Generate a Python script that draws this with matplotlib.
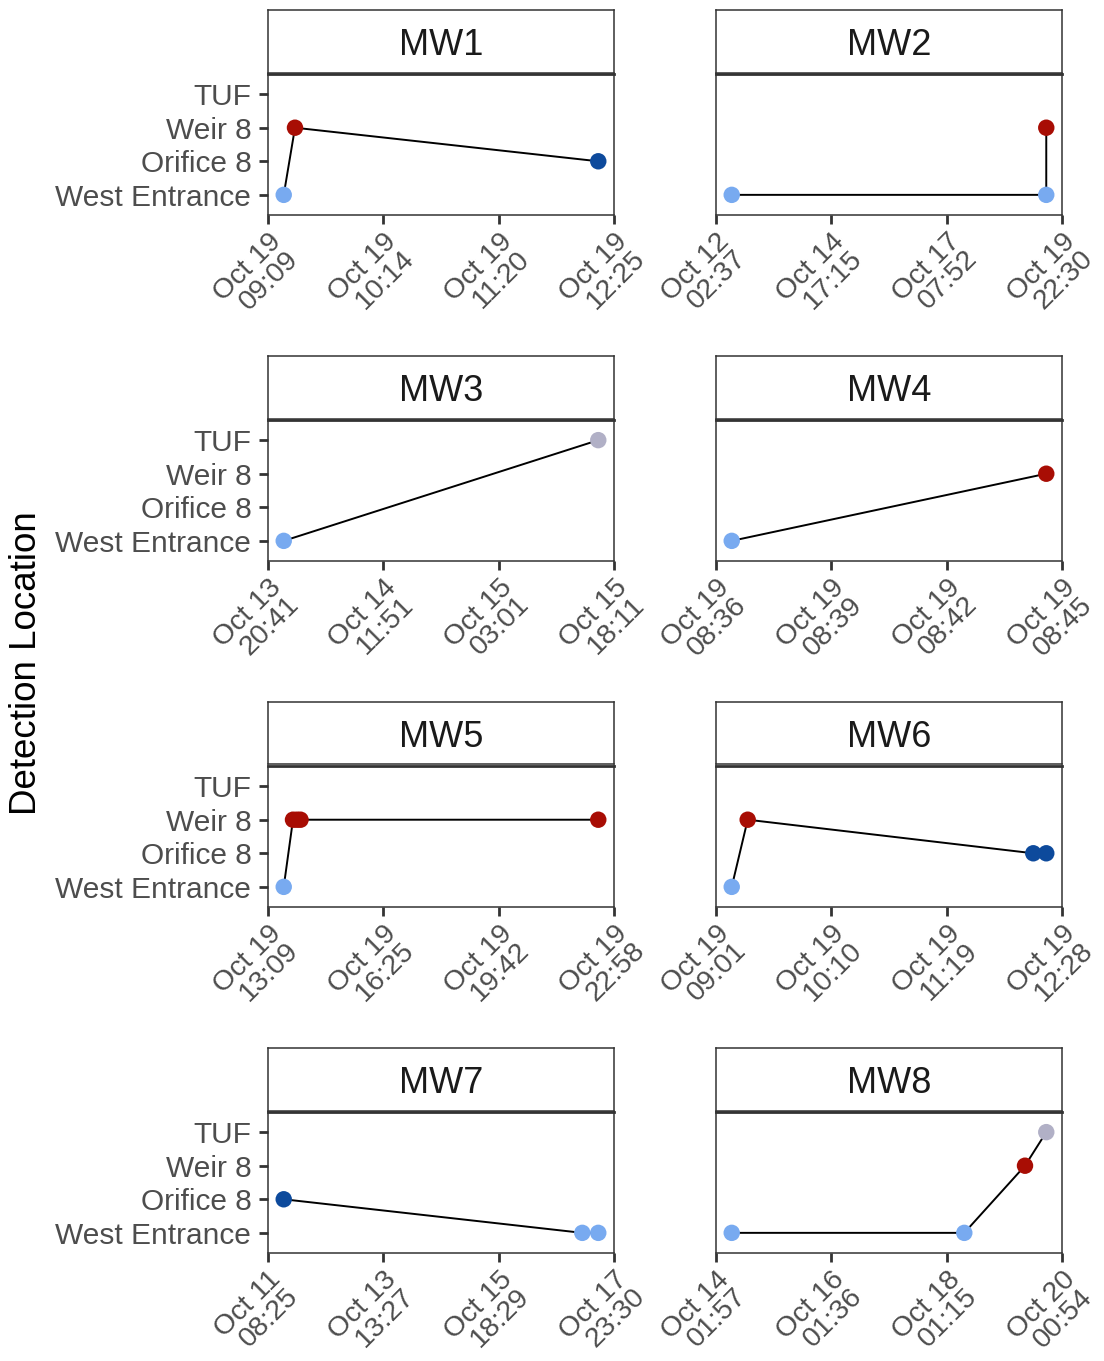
import datetime as dt
import numpy as np
import matplotlib
matplotlib.use("Agg")
import matplotlib.pyplot as plt
import matplotlib.dates as mdates
import matplotlib.transforms as mtransforms

plt.rcParams['font.family'] = ['Liberation Sans', 'DejaVu Sans']

# ---------------- data ----------------
locations = ['West Entrance', 'Orifice 8', 'Weir 8', 'TUF']
loc_colors = {'West Entrance': '#78AAF0', 'Orifice 8': '#0D4A9C',
              'Weir 8': '#A80D04', 'TUF': '#B1B0C6'}
fish_ids = ['MW1', 'MW2', 'MW3', 'MW4', 'MW5', 'MW6', 'MW7', 'MW8']

det_fish = ['MW1', 'MW1', 'MW1',
            'MW2', 'MW2', 'MW2',
            'MW3', 'MW3',
            'MW4', 'MW4',
            'MW5', 'MW5', 'MW5', 'MW5', 'MW5',
            'MW6', 'MW6', 'MW6', 'MW6',
            'MW7', 'MW7', 'MW7',
            'MW8', 'MW8', 'MW8', 'MW8']
det_time = ['2020-10-19 09:18:00', '2020-10-19 09:24:24', '2020-10-19 12:16:45',
            '2020-10-12 11:10:00', '2020-10-19 13:57:30', '2020-10-19 13:58:00',
            '2020-10-13 22:45:10', '2020-10-15 16:07:00',
            '2020-10-19 08:36:30', '2020-10-19 08:44:40',
            '2020-10-19 13:36:00', '2020-10-19 13:51:48', '2020-10-19 13:58:36',
            '2020-10-19 14:04:36', '2020-10-19 22:31:54',
            '2020-10-19 09:10:30', '2020-10-19 09:20:03', '2020-10-19 12:10:54',
            '2020-10-19 12:18:40',
            '2020-10-11 15:39:17', '2020-10-17 08:56:24', '2020-10-17 16:17:01',
            '2020-10-14 08:27:10', '2020-10-18 08:32:18', '2020-10-19 09:37:00',
            '2020-10-19 18:24:20']
det_loc = ['West Entrance', 'Weir 8', 'Orifice 8',
           'West Entrance', 'West Entrance', 'Weir 8',
           'West Entrance', 'TUF',
           'West Entrance', 'Weir 8',
           'West Entrance', 'Weir 8', 'Weir 8', 'Weir 8', 'Weir 8',
           'West Entrance', 'Weir 8', 'Orifice 8', 'Orifice 8',
           'Orifice 8', 'West Entrance', 'West Entrance',
           'West Entrance', 'West Entrance', 'Weir 8', 'TUF']

# ---------------- figure ----------------
W, H = 1104, 1361
fig = plt.figure(figsize=(W / 100, H / 100), dpi=100)

def fx(px):
    return px / W

def fy(py):
    return 1 - py / H

BORDER = '#333333'
TICKLAB = '#4D4D4D'
left0, col_step, pw = 268, 448, 346
strip_top0, strip_h, panel_top0, panel_h, row_step = 10, 62.5, 74, 141, 346

times_num = mdates.date2num([dt.datetime.strptime(t, '%Y-%m-%d %H:%M:%S') for t in det_time])
det_fish_arr = np.array(det_fish)
det_loc_arr = np.array(det_loc)

for i, fid in enumerate(fish_ids):
    r, c = divmod(i, 2)
    x0 = left0 + c * col_step
    st = strip_top0 + r * row_step
    pt = panel_top0 + r * row_step

    # strip
    sax = fig.add_axes([fx(x0), fy(st + strip_h), fx(pw), strip_h / H])
    sax.set_xticks([]); sax.set_yticks([])
    for s in sax.spines.values():
        s.set_color(BORDER); s.set_linewidth(1.1)
    sax.text(0.5, 0.5, fid, ha='center', va='center_baseline', fontsize=26,
             color='#1A1A1A', transform=sax.transAxes)

    # panel
    ax = fig.add_axes([fx(x0), fy(pt + panel_h), fx(pw), panel_h / H])
    m = det_fish_arr == fid
    xs = times_num[m]
    ys = np.array([locations.index(l) for l in det_loc_arr[m]])
    cols = [loc_colors[l] for l in det_loc_arr[m]]
    ax.plot(xs, ys, color='black', lw=1.4, zorder=2)
    ax.scatter(xs, ys, s=140, c=cols, edgecolors='none', zorder=3)

    lo, hi = xs.min(), xs.max()
    rng = hi - lo
    lo, hi = lo - 0.05 * rng, hi + 0.05 * rng
    ax.set_xlim(lo, hi)
    ticks = np.linspace(lo, hi, 4)
    ax.set_xticks(ticks)
    ax.set_xticklabels([mdates.num2date(t).strftime('%b %d\n%H:%M') for t in ticks],
                       rotation=45, ha='right', va='top', rotation_mode='anchor',
                       fontsize=20.5, color=TICKLAB, linespacing=0.95)
    off = mtransforms.ScaledTranslation(5 / 100, 0, fig.dpi_scale_trans)
    for lab in ax.get_xticklabels():
        lab.set_transform(lab.get_transform() + off)

    ax.set_ylim(-0.6, 3.6)
    ax.set_yticks(range(len(locations)))
    if c == 0:
        ax.set_yticklabels(locations, fontsize=21.5, color=TICKLAB)
    else:
        ax.set_yticklabels([])
    ax.tick_params(axis='both', direction='out', length=6.5, width=2.0, color=BORDER)
    ax.tick_params(axis='y', pad=5.5)
    ax.tick_params(axis='x', pad=3)
    if c == 1:
        ax.tick_params(axis='y', length=0)
    for s in ax.spines.values():
        s.set_color(BORDER); s.set_linewidth(1.1)
    ax.spines['top'].set_linewidth(2.0)

fig.text(fx(27), fy(663), 'Detection Location', rotation=90, ha='center', va='center',
         fontsize=26.5, color='black')

fig.savefig('out.png', dpi=100, facecolor='white')
